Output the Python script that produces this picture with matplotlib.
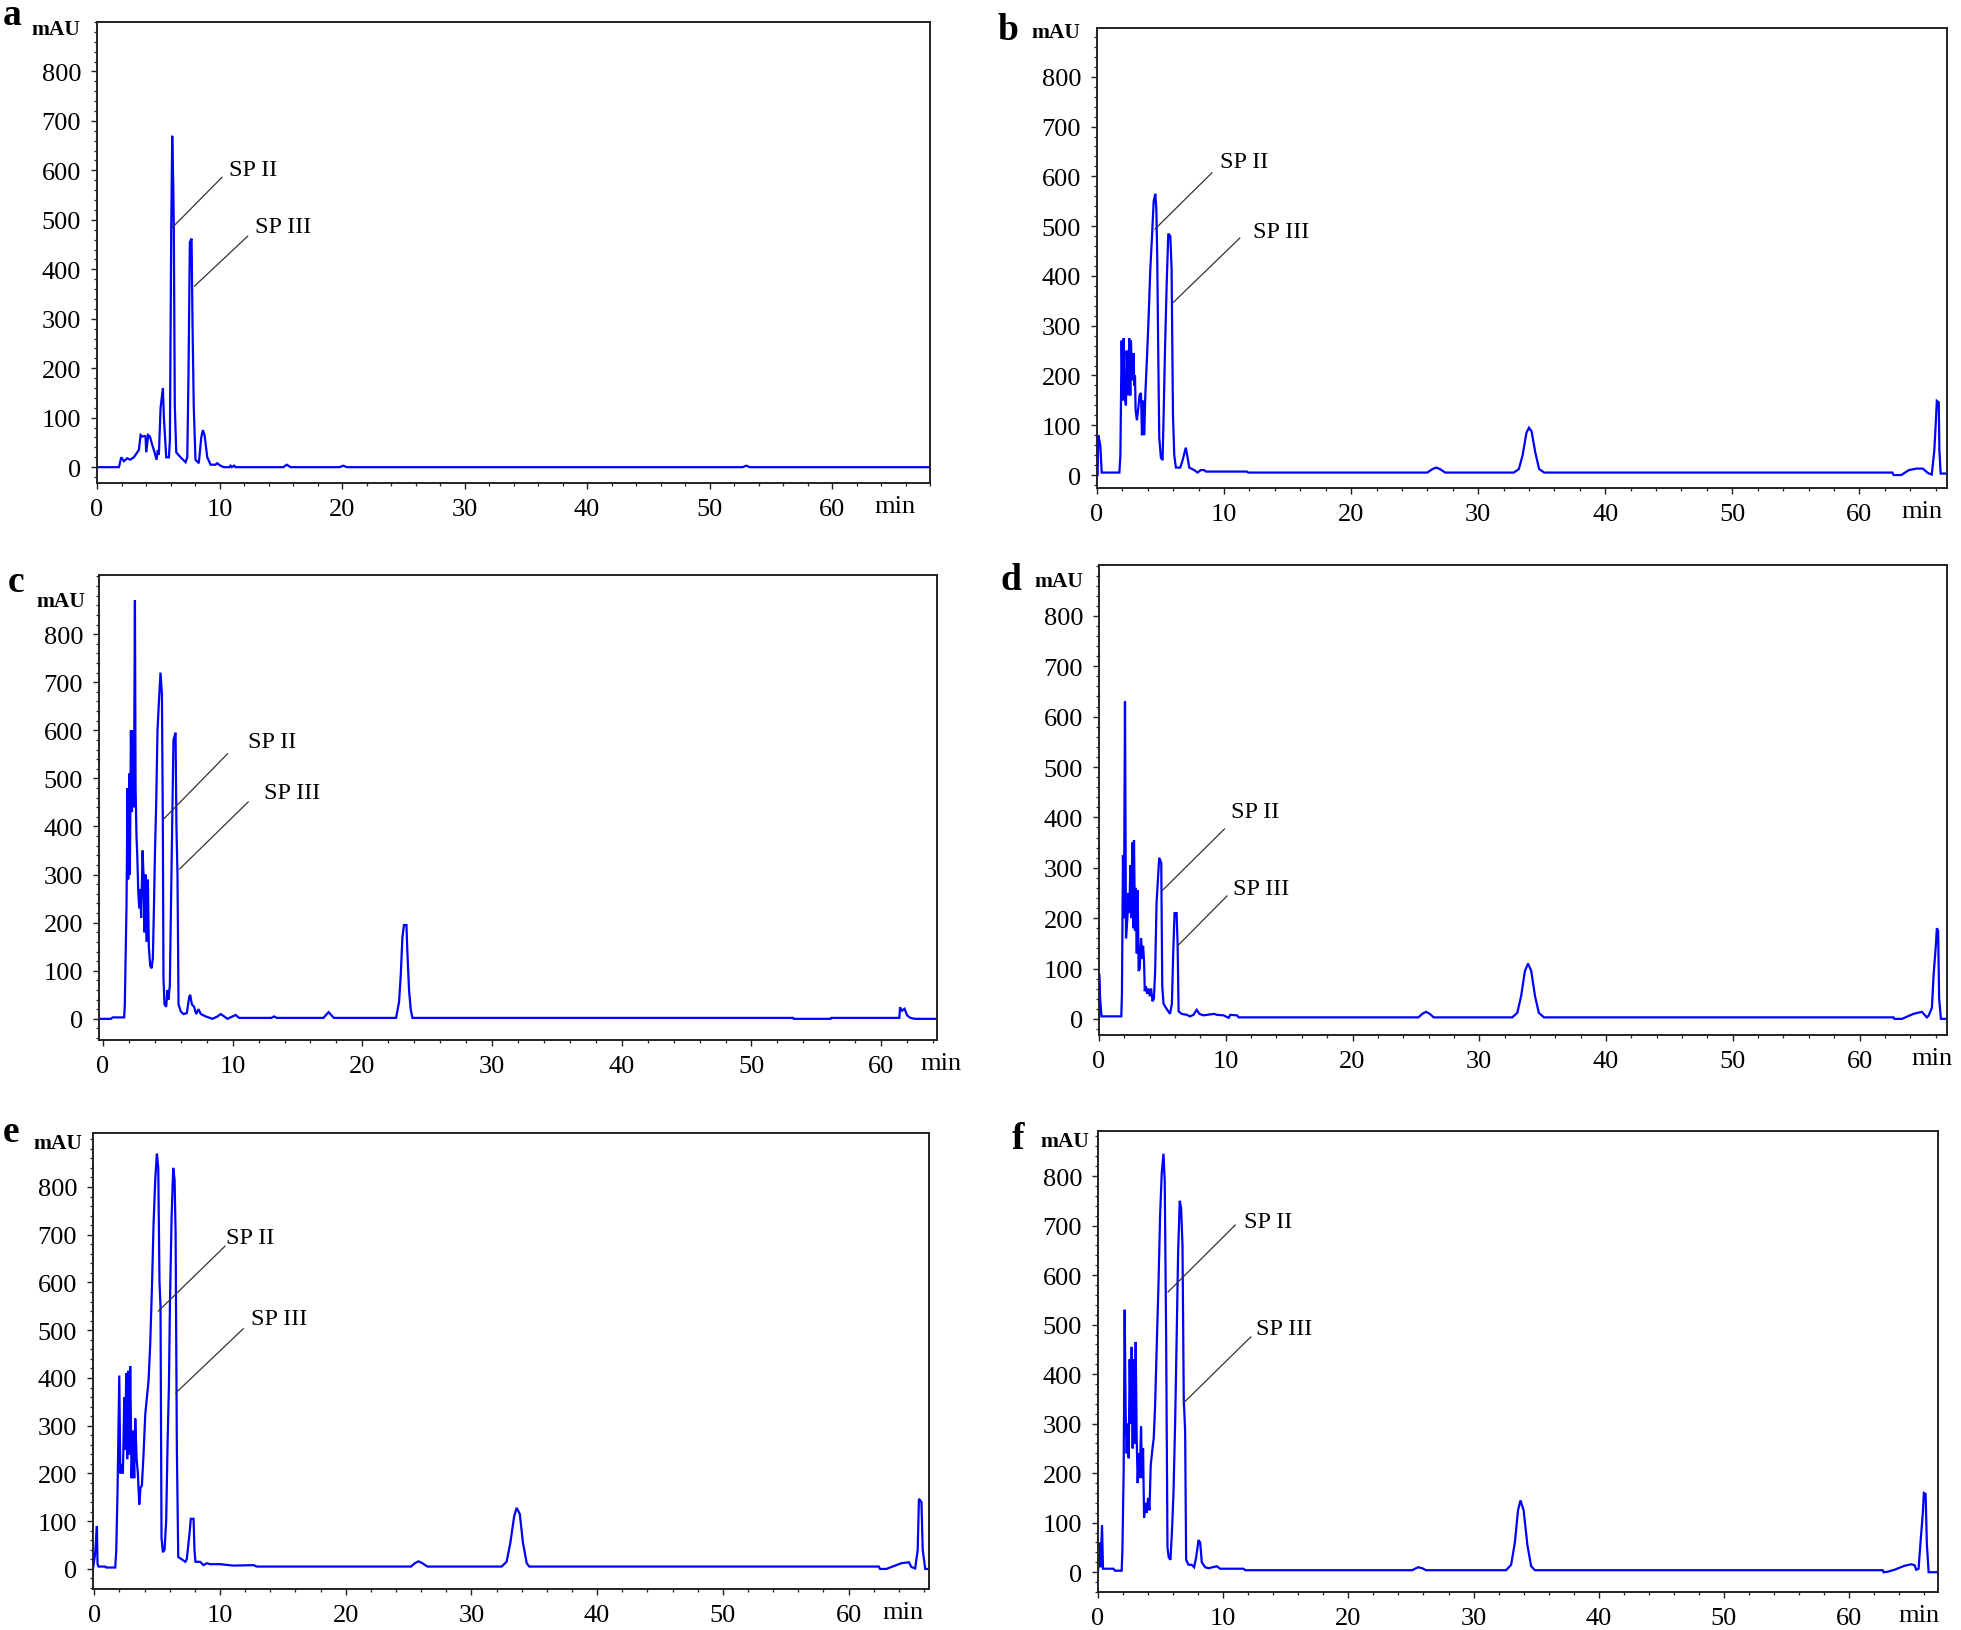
import matplotlib
matplotlib.use("Agg")
import matplotlib.pyplot as plt
from matplotlib.ticker import MultipleLocator

plt.rcParams['font.family'] = ['Liberation Serif', 'DejaVu Serif']

# ---------------- data (time [min], absorbance [mAU]) ----------------
trace_a = [(0, 0), (1.79, 0), (1.98, 20), (2.2, 12), (2.47, 18), (2.7, 15), (3.01, 20), (3.42, 35),
           (3.56, 65), (3.69, 62), (3.96, 63), (4.02, 30), (4.18, 65), (4.32, 62), (4.51, 45), (4.70, 30),
           (4.86, 15), (4.97, 35), (5.05, 25), (5.19, 120), (5.38, 160), (5.46, 100), (5.65, 20), (5.87, 20),
           (5.95, 55), (6.06, 480), (6.14, 670), (6.22, 575), (6.27, 485), (6.35, 125), (6.47, 30), (6.82, 20),
           (7.23, 10), (7.37, 20), (7.47, 190), (7.58, 455), (7.72, 462), (7.80, 285), (7.90, 120), (8.04, 15),
           (8.31, 8), (8.51, 60), (8.64, 75), (8.78, 65), (9.00, 20), (9.27, 5), (9.67, 5), (9.81, 8),
           (10.08, 3), (10.35, 0), (10.8, 0), (10.9, 3), (11.0, 0), (11.2, 3), (11.3, 0), (15.2, 0),
           (15.5, 5), (15.8, 0), (19.8, 0), (20.1, 3), (20.4, 0), (52.7, 0), (53.0, 3), (53.3, 0), (68, 0)]

trace_b = [(0, 0), (0.05, 0), (0.10, 80), (0.26, 60), (0.37, 5), (1.76, 5), (1.84, 40), (1.94, 270),
           (2.02, 150), (2.10, 275), (2.15, 160), (2.28, 140), (2.33, 250), (2.46, 160), (2.54, 275),
           (2.62, 160), (2.67, 270), (2.78, 190), (2.88, 245), (2.93, 180), (2.99, 200), (3.04, 130),
           (3.14, 110), (3.25, 135), (3.35, 160), (3.46, 165), (3.54, 80), (3.61, 150), (3.72, 80),
           (3.80, 160), (3.94, 240), (4.06, 315), (4.19, 410), (4.32, 475), (4.46, 550), (4.59, 565),
           (4.67, 535), (4.74, 440), (4.82, 245), (4.90, 75), (5.03, 35), (5.16, 30), (5.24, 115),
           (5.35, 250), (5.48, 380), (5.61, 485), (5.77, 480), (5.87, 415), (5.98, 120), (6.08, 40),
           (6.21, 15), (6.55, 15), (6.74, 30), (6.99, 55), (7.13, 35), (7.26, 15), (7.65, 10), (7.91, 5),
           (8.17, 10), (8.44, 10), (8.57, 7), (11.8, 7), (11.9, 5), (26.0, 5), (26.4, 12), (26.7, 15),
           (27.0, 12), (27.4, 5), (32.8, 5), (33.2, 12), (33.5, 40), (33.8, 85), (34.0, 95), (34.2, 88),
           (34.5, 45), (34.8, 12), (35.2, 5), (62.6, 5), (62.7, 0), (63.3, 0), (63.9, 10), (64.5, 13),
           (65.0, 13), (65.4, 4), (65.7, 1), (65.9, 49), (66.0, 96), (66.1, 149), (66.25, 146), (66.3, 50),
           (66.4, 3), (67, 3)]

trace_c = [(-0.3, 0), (0.62, 0), (0.75, 3), (1.64, 3), (1.69, 30), (1.82, 235), (1.90, 480), (1.95, 290),
           (2.03, 510), (2.08, 300), (2.16, 600), (2.24, 430), (2.31, 600), (2.39, 440), (2.47, 870),
           (2.52, 480), (2.59, 380), (2.65, 340), (2.72, 270), (2.80, 230), (2.88, 270), (2.95, 210),
           (3.06, 350), (3.13, 300), (3.21, 180), (3.29, 300), (3.36, 160), (3.47, 290), (3.54, 150),
           (3.65, 110), (3.75, 105), (3.85, 125), (3.93, 225), (4.01, 340), (4.11, 450), (4.21, 600),
           (4.32, 660), (4.44, 720), (4.55, 675), (4.62, 410), (4.67, 85), (4.75, 30), (4.88, 25),
           (4.98, 60), (5.06, 40), (5.16, 70), (5.24, 220), (5.34, 400), (5.44, 580), (5.60, 595),
           (5.67, 400), (5.75, 300), (5.83, 30), (6.01, 15), (6.21, 10), (6.47, 12), (6.65, 45), (6.73, 50),
           (6.86, 30), (7.03, 25), (7.19, 10), (7.37, 20), (7.55, 10), (7.93, 5), (8.45, 0), (8.83, 5),
           (9.09, 10), (9.35, 5), (9.60, 0), (9.99, 5), (10.24, 8), (10.5, 2), (13.0, 2), (13.2, 5),
           (13.4, 2), (17.0, 2), (17.4, 14), (17.8, 2), (22.6, 2), (22.83, 35), (22.96, 90), (23.09, 170),
           (23.21, 195), (23.40, 195), (23.47, 140), (23.60, 60), (23.73, 20), (23.86, 2), (53.2, 2),
           (53.25, 0), (56.1, 0), (56.15, 2), (61.4, 2), (61.45, 24), (61.6, 17), (61.8, 21), (62.0, 7),
           (62.25, 2), (62.6, 0), (64.3, 0)]

trace_d = [(0, 0), (0.01, 90), (0.09, 40), (0.2, 5), (1.76, 5), (1.81, 50), (1.89, 325), (1.97, 200),
           (2.05, 630), (2.13, 160), (2.24, 200), (2.32, 250), (2.40, 210), (2.47, 305), (2.55, 200),
           (2.63, 350), (2.71, 180), (2.76, 355), (2.84, 175), (2.90, 260), (2.98, 130), (3.05, 255),
           (3.13, 95), (3.21, 100), (3.32, 160), (3.40, 120), (3.48, 145), (3.56, 110), (3.61, 55),
           (3.69, 65), (3.80, 50), (3.90, 60), (4.01, 45), (4.11, 60), (4.22, 35), (4.33, 40), (4.43, 95),
           (4.54, 230), (4.75, 320), (4.91, 310), (4.99, 65), (5.09, 30), (5.33, 20), (5.60, 10), (5.75, 30),
           (5.86, 135), (5.96, 210), (6.12, 210), (6.20, 150), (6.28, 15), (6.52, 10), (6.92, 8), (7.18, 5),
           (7.45, 8), (7.71, 18), (7.92, 10), (8.24, 7), (9.09, 10), (9.30, 8), (9.83, 7), (10.23, 2),
           (10.36, 8), (10.89, 7), (11.02, 3), (25.2, 3), (25.5, 10), (25.8, 14), (26.1, 10), (26.4, 3),
           (32.6, 3), (33.0, 12), (33.3, 45), (33.6, 95), (33.85, 110), (34.1, 95), (34.4, 45), (34.7, 12),
           (35.1, 3), (62.68, 3), (62.75, 0), (63.34, 0), (64.26, 10), (64.92, 14), (65.31, 3), (65.44, 6),
           (65.71, 22), (65.84, 86), (66.02, 146), (66.1, 180), (66.2, 175), (66.28, 40), (66.42, 0),
           (66.9, 0)]

trace_e = [(-0.1, 0), (0.08, 35), (0.21, 90), (0.26, 10), (0.34, 5), (0.87, 5), (0.95, 3), (1.67, 3),
           (1.75, 40), (1.85, 160), (1.99, 405), (2.07, 200), (2.20, 220), (2.28, 200), (2.39, 360),
           (2.46, 250), (2.54, 410), (2.62, 230), (2.70, 415), (2.78, 240), (2.86, 425), (2.97, 190),
           (3.07, 290), (3.18, 190), (3.26, 315), (3.37, 230), (3.47, 200), (3.58, 135), (3.68, 170),
           (3.79, 175), (3.92, 240), (4.06, 325), (4.19, 360), (4.32, 395), (4.45, 470), (4.59, 590),
           (4.72, 725), (4.85, 815), (4.98, 870), (5.09, 840), (5.19, 600), (5.27, 550), (5.35, 65),
           (5.46, 35), (5.59, 40), (5.72, 100), (5.83, 260), (5.94, 385), (6.02, 555), (6.15, 735),
           (6.28, 840), (6.39, 815), (6.47, 705), (6.57, 255), (6.68, 25), (6.97, 20), (7.24, 15),
           (7.36, 20), (7.58, 75), (7.68, 105), (7.90, 105), (7.97, 40), (8.05, 15), (8.42, 15), (8.69, 8),
           (8.95, 12), (9.22, 10), (10.0, 10), (11.07, 7), (12.66, 8), (12.93, 5), (25.2, 5), (25.5, 12),
           (25.8, 16), (26.1, 12), (26.5, 5), (32.4, 5), (32.8, 15), (33.1, 55), (33.4, 110), (33.6, 128),
           (33.85, 115), (34.1, 55), (34.4, 12), (34.6, 5), (62.4, 5), (62.5, 0), (63.0, 0), (64.2, 12),
           (64.8, 14), (65.0, 4), (65.3, 1), (65.5, 40), (65.6, 147), (65.8, 140), (65.9, 40), (66.1, 0),
           (66.5, 0)]

trace_f = [(0, 0), (0.11, 60), (0.21, 10), (0.32, 95), (0.40, 7), (1.23, 7), (1.36, 3), (1.89, 3),
           (1.95, 45), (2.05, 205), (2.13, 530), (2.21, 320), (2.29, 240), (2.37, 300), (2.45, 230),
           (2.53, 430), (2.61, 300), (2.69, 455), (2.77, 250), (2.85, 430), (2.93, 260), (3.01, 465),
           (3.09, 270), (3.17, 180), (3.25, 240), (3.33, 190), (3.44, 295), (3.52, 190), (3.60, 250),
           (3.68, 110), (3.79, 140), (3.89, 120), (4.00, 150), (4.11, 125), (4.21, 215), (4.35, 250),
           (4.45, 270), (4.56, 335), (4.69, 455), (4.83, 580), (4.96, 720), (5.09, 805), (5.23, 845),
           (5.33, 790), (5.44, 485), (5.55, 50), (5.65, 30), (5.79, 25), (5.92, 90), (6.03, 160),
           (6.16, 300), (6.27, 455), (6.40, 645), (6.53, 750), (6.64, 735), (6.75, 660), (6.85, 350),
           (6.96, 285), (7.04, 25), (7.23, 15), (7.49, 15), (7.68, 10), (7.84, 30), (8.03, 65), (8.16, 60),
           (8.29, 20), (8.56, 10), (8.83, 8), (9.49, 12), (9.76, 7), (11.63, 7), (11.76, 4), (25.1, 4),
           (25.4, 8), (25.6, 10), (25.9, 8), (26.2, 4), (32.6, 4), (33.0, 15), (33.3, 60), (33.55, 125),
           (33.75, 145), (34.0, 125), (34.3, 55), (34.6, 12), (34.9, 4), (62.69, 4), (62.75, 0), (63.09, 1),
           (63.63, 5), (64.43, 13), (64.96, 16), (65.23, 14), (65.36, 5), (65.55, 7), (65.71, 63),
           (65.89, 120), (65.97, 160), (66.11, 158), (66.21, 57), (66.35, 0), (67.1, 0)]

panel_letters = ['a', 'b', 'c', 'd', 'e', 'f']
traces = [trace_a, trace_b, trace_c, trace_d, trace_e, trace_f]
x_ticks = [0, 10, 20, 30, 40, 50, 60]
y_ticks = [0, 100, 200, 300, 400, 500, 600, 700, 800]
peak_names = ['SP II', 'SP III']

# label annotations: (text x, text y, line start x, line start y, line end x, line end y)
sp2_marks = [(10.8, 602, 10.2, 586, 6.17, 485), (9.67, 629, 9.04, 607, 4.56, 494),
             (11.2, 576, 9.6, 551, 4.7, 416), (10.4, 411, 9.9, 377, 4.96, 254),
             (10.5, 695, 10.4, 676, 5.1, 540), (11.7, 709, 10.96, 701, 5.6, 566)]
sp3_marks = [(12.9, 487, 12.3, 467, 7.96, 366), (12.3, 490, 11.24, 476, 5.97, 346),
             (12.4, 470, 11.2, 451, 5.93, 312), (10.55, 258, 10.1, 244, 6.2, 145),
             (12.5, 524, 11.85, 503, 6.5, 369), (12.6, 493, 12.2, 475, 6.8, 341)]

# ---------------- layout (pixels in a 1961 x 1631 canvas) ----------------
W, H = 1961, 1631
axes_px = [(97, 23, 930, 484), (1097, 29, 1947, 489), (99, 576, 937, 1041),
           (1099, 566, 1947, 1036), (93, 1134, 929, 1590), (1098, 1132, 1938, 1593)]
xlims = [(0, 68.0), (0, 66.9), (-0.3, 64.3), (0, 66.9), (-0.1, 66.4), (0, 67.1)]
ylims = [(-32, 900), (-26, 898), (-44, 923), (-32, 901), (-42, 913), (-40, 891)]
mau_y = [885, 890, 869, 869, 892, 871]
mau_gap = [12, 12, 10, 11, 8, 6]
min_x = [65.1, 64.9, 64.6, 65.7, 64.3, 65.6]
letter_px = [(3, 25), (998, 40), (8, 592), (1000, 590), (3, 1142), (1012, 1149)]

fig = plt.figure(figsize=(W / 100, H / 100), dpi=100)
blue = '#0000ff'

for i in range(6):
    x0, y0, x1, y1 = axes_px[i]
    ax = fig.add_axes([x0 / W, 1 - y1 / H, (x1 - x0) / W, (y1 - y0) / H])
    t = [p[0] for p in traces[i]]
    v = [p[1] for p in traces[i]]
    ax.plot(t, v, color=blue, lw=1.6, solid_joinstyle='miter')
    ax.set_xlim(*xlims[i])
    ax.set_ylim(*ylims[i])
    ax.set_xticks(x_ticks)
    ax.set_yticks(y_ticks)
    ax.xaxis.set_minor_locator(MultipleLocator(2))
    ax.yaxis.set_minor_locator(MultipleLocator(20))
    ax.tick_params(axis='both', which='major', direction='out', length=4.5, width=1.0,
                   labelsize=19, color='#222222')
    ax.tick_params(axis='both', which='minor', direction='out', length=2.2, width=0.9, color='#222222')
    ax.tick_params(axis='y', which='major', pad=7)
    ax.tick_params(axis='x', which='major', pad=6)
    for s in ax.spines.values():
        s.set_linewidth(1.4)
        s.set_color('#222222')

    # mAU unit label
    ax.annotate('mAU', xy=(0, mau_y[i]), xycoords=ax.get_yaxis_transform(),
                xytext=(-mau_gap[i], 0), textcoords='offset points',
                ha='right', va='center', fontsize=15.5, fontweight='bold', annotation_clip=False)
    # min unit label
    ax.annotate('min', xy=(min_x[i], 0), xycoords=ax.get_xaxis_transform(),
                xytext=(0, -9), textcoords='offset points',
                ha='center', va='top', fontsize=19, annotation_clip=False)

    for name, mk in zip(peak_names, (sp2_marks[i], sp3_marks[i])):
        tx, ty, lx0, ly0, lx1, ly1 = mk
        ax.plot([lx0, lx1], [ly0, ly1], color='#333333', lw=0.9)
        ax.text(tx, ty, name, fontsize=17.5, ha='left', va='center')

    lx, ly = letter_px[i]
    fig.text(lx / W, 1 - ly / H, panel_letters[i], fontsize=27, fontweight='bold',
             ha='left', va='baseline')

fig.savefig('out.png', dpi=100)
